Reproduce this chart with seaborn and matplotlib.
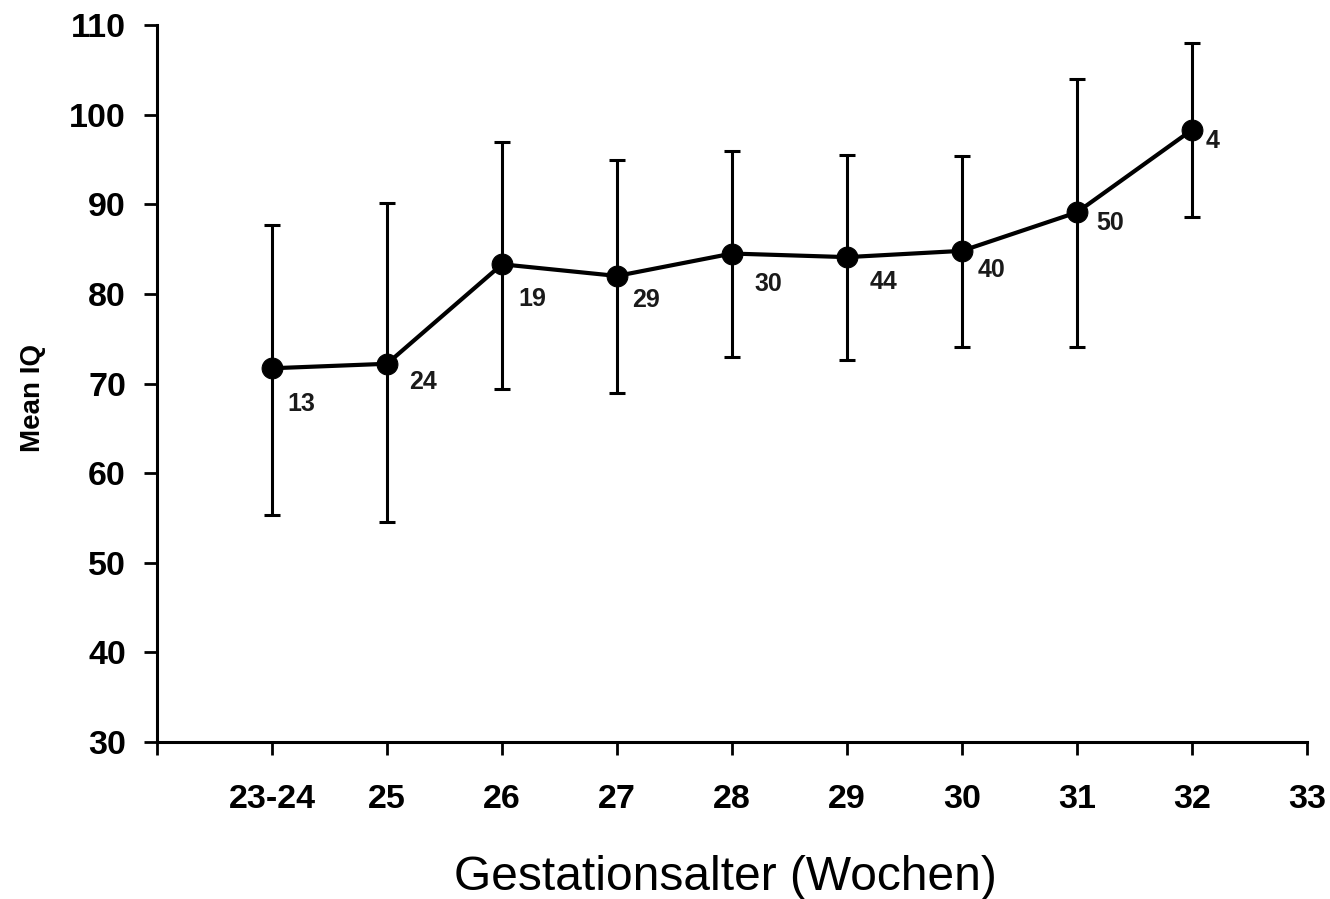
import matplotlib
matplotlib.use("Agg")
import matplotlib.pyplot as plt
import seaborn as sns
import numpy as np
import pandas as pd

# ---- data ----
categories = ["23-24", "25", "26", "27", "28", "29", "30", "31", "32"]
tick_labels = ["", "23-24", "25", "26", "27", "28", "29", "30", "31", "32", "33"]
mean_iq = [71.7, 72.2, 83.3, 82.0, 84.5, 84.1, 84.8, 89.1, 98.3]
upper_iq = [87.7, 90.1, 96.9, 94.9, 95.9, 95.5, 95.4, 104.0, 108.0]
lower_iq = [55.3, 54.6, 69.4, 68.9, 73.0, 72.6, 74.1, 74.1, 88.6]
n_counts = ["13", "24", "19", "29", "30", "44", "40", "50", "4"]

# label offsets (style, in points)
label_offsets = [(21, -26), (26, -13), (22, -25), (21, -17), (26, -22),
                 (26, -18), (21, -14), (24, -8), (15, -8)]

sns.set_theme(style="ticks")
plt.rcParams['font.family'] = ['Liberation Sans', 'DejaVu Sans']
plt.rcParams['text.color'] = 'black'
plt.rcParams['axes.labelcolor'] = 'black'

fig = plt.figure(figsize=(13.3, 8.99), dpi=100)
ax = fig.add_axes([157/1330, 1 - 742/899, (1307-157)/1330, (742-25)/899])

pos = np.arange(1, len(categories) + 1)
df = pd.DataFrame({"pos": pos, "iq": mean_iq, "cat": categories})

yerr = np.array([np.array(mean_iq) - np.array(lower_iq),
                 np.array(upper_iq) - np.array(mean_iq)])
ax.errorbar(df["pos"], df["iq"], yerr=yerr, fmt="none", ecolor="black",
            elinewidth=2.2, capsize=5.5, capthick=2.2, zorder=2)
sns.lineplot(data=df, x="pos", y="iq", ax=ax, color="black", linewidth=3,
             marker="o", markersize=15, markeredgecolor="black",
             markerfacecolor="black", zorder=3)

for p, m, t, off in zip(pos, mean_iq, n_counts, label_offsets):
    ax.annotate(t, (p, m), xytext=off, textcoords="offset points",
                ha="center", va="center", fontsize=18, fontweight="bold",
                color="#1a1a1a")

ax.set_xlim(0, 10)
ax.set_ylim(30, 110)
ax.set_xticks(np.arange(0, 11))
ax.set_xticklabels(tick_labels)
ax.set_yticks(np.arange(30, 111, 10))

for s in ["top", "right"]:
    ax.spines[s].set_visible(False)
for s in ["left", "bottom"]:
    ax.spines[s].set_linewidth(2.2)
    ax.spines[s].set_color("black")

ax.tick_params(axis="both", direction="out", length=9.4, width=2, colors="black",
               labelsize=24.5)
ax.tick_params(axis="y", pad=13)
ax.tick_params(axis="x", pad=21)
for lbl in ax.get_xticklabels() + ax.get_yticklabels():
    lbl.set_fontweight("bold")

ax.set_ylabel("Mean IQ", fontsize=20, fontweight="bold", labelpad=17, color="black")
ax.yaxis.label.set_y(0.48)
ax.set_xlabel("Gestationsalter (Wochen)", fontsize=34.5, labelpad=29, color="black")
ax.xaxis.label.set_x(0.494)

fig.savefig("out.png", dpi=100, facecolor="white")
